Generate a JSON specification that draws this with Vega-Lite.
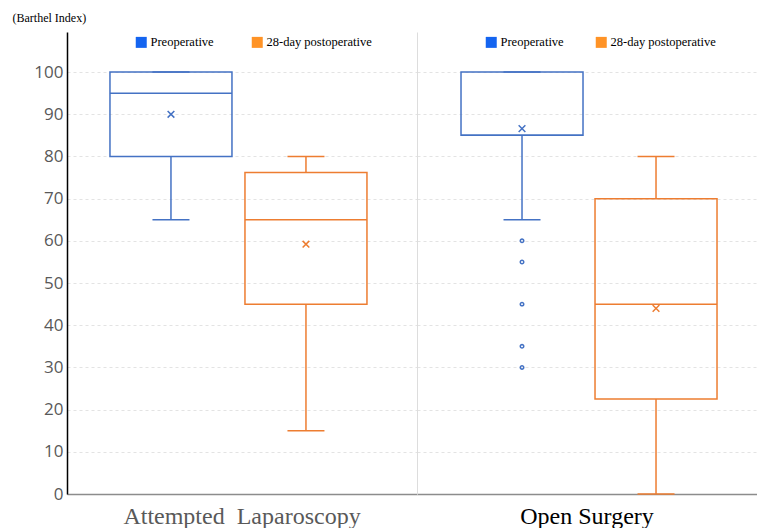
{
  "$schema": "https://vega.github.io/schema/vega-lite/v6.json",
  "background": "white",
  "padding": {"left": 12, "top": 11, "right": 0, "bottom": 0},
  "spacing": 0,
  "config": {
    "view": {"stroke": null},
    "axis": {"grid": false, "ticks": false},
    "legend": {"symbolOpacity": 1}
  },
  "datasets": {
    "stats": [
      {"group": "Attempted\u00a0 Laparoscopy", "series": "Preoperative", "min": 65, "q1": 80, "median": 95, "q3": 100, "max": 100, "mean": 90},
      {"group": "Attempted\u00a0 Laparoscopy", "series": "28-day postoperative", "min": 15, "q1": 45, "median": 65, "q3": 76.2, "max": 80, "mean": 59.2},
      {"group": "Open Surgery", "series": "Preoperative", "min": 65, "q1": 85, "median": 85, "q3": 100, "max": 100, "mean": 86.6},
      {"group": "Open Surgery", "series": "28-day postoperative", "min": 0, "q1": 22.5, "median": 45, "q3": 70, "max": 80, "mean": 44}
    ],
    "outliers": [
      {"group": "Open Surgery", "series": "Preoperative", "value": 60},
      {"group": "Open Surgery", "series": "Preoperative", "value": 55},
      {"group": "Open Surgery", "series": "Preoperative", "value": 45},
      {"group": "Open Surgery", "series": "Preoperative", "value": 35},
      {"group": "Open Surgery", "series": "Preoperative", "value": 30}
    ]
  },
  "resolve": {
    "scale": {"y": "shared", "x": "independent", "xOffset": "independent", "fill": "independent", "color": "shared"},
    "legend": {"fill": "independent"}
  },
  "hconcat": [
    {
      "width": 350,
      "height": 462,
      "encoding": {
        "x": {"field": "group", "type": "nominal", "title": null,
          "scale": {"paddingInner": 0, "paddingOuter": 0},
          "axis": {"labelAngle": 0, "labelLimit": 0, "labelFont": "Liberation Serif", "labelFontSize": 24, "labelColor": "#595959", "labelPadding": 10, "domainColor": "#8c8c8c", "domainWidth": 1.5}},
        "xOffset": {"field": "series", "type": "nominal", "sort": ["Preoperative", "28-day postoperative"],
          "scale": {"paddingInner": 0.0963, "paddingOuter": 0.3445, "align": 0.462}}
      },
      "layer": [
        {
          "data": {"name": "stats"},
          "transform": [{"filter": "datum.group === 'Attempted\u00a0 Laparoscopy'"}],
          "layer": [
            {
              "mark": {"type": "rule", "strokeWidth": 1.5},
              "encoding": {
                "y": {"field": "min", "type": "quantitative", "scale": {"domain": [0, 109.5], "nice": false},
                  "title": "(Barthel Index)",
                  "axis": {"values": [0, 10, 20, 30, 40, 50, 60, 70, 80, 90, 100], "grid": true, "gridColor": "#e3e3e3", "gridDash": [3, 3],
                    "domainColor": "#000000", "domainWidth": 1.5, "labelFont": "Open Sans", "labelFontSize": 17, "labelColor": "#595959", "labelPadding": 4,
                    "titleAngle": 0, "titleAlign": "left", "titleBaseline": "middle", "titleX": -55, "titleY": -15,
                    "titleFont": "Liberation Serif", "titleFontSize": 12, "titleFontWeight": "normal", "titleColor": "#000000"}},
                "y2": {"field": "q1"},
                "color": {"field": "series", "type": "nominal", "legend": null,
                  "scale": {"domain": ["Preoperative", "28-day postoperative"], "range": ["#4472C4", "#ED7D31"]}}
              }
            },
            {
              "mark": {"type": "rule", "strokeWidth": 1.5},
              "encoding": {
                "y": {"field": "q3", "type": "quantitative"},
                "y2": {"field": "max"},
                "color": {"field": "series", "type": "nominal", "legend": null}
              }
            },
            {
              "mark": {"type": "bar", "filled": false, "strokeWidth": 1.5, "opacity": 1},
              "encoding": {
                "y": {"field": "q1", "type": "quantitative"},
                "y2": {"field": "q3"},
                "color": {"field": "series", "type": "nominal", "legend": null}
              }
            },
            {
              "mark": {"type": "tick", "size": 122, "thickness": 1.5, "orient": "horizontal", "opacity": 1},
              "encoding": {
                "y": {"field": "median", "type": "quantitative"},
                "color": {"field": "series", "type": "nominal", "legend": null}
              }
            },
            {
              "mark": {"type": "tick", "size": 37, "thickness": 1.5, "orient": "horizontal", "opacity": 1},
              "encoding": {
                "y": {"field": "min", "type": "quantitative"},
                "color": {"field": "series", "type": "nominal", "legend": null}
              }
            },
            {
              "mark": {"type": "tick", "size": 37, "thickness": 1.5, "orient": "horizontal", "opacity": 1},
              "encoding": {
                "y": {"field": "max", "type": "quantitative"},
                "color": {"field": "series", "type": "nominal", "legend": null}
              }
            },
            {
              "mark": {"type": "point", "shape": "M-1,-1L1,1M1,-1L-1,1", "filled": false, "strokeWidth": 1.5, "size": 45, "opacity": 1},
              "encoding": {
                "y": {"field": "mean", "type": "quantitative"},
                "color": {"field": "series", "type": "nominal", "legend": null}
              }
            },
            {
              "mark": {"type": "point", "shape": "square", "filled": true, "opacity": 0},
              "encoding": {
                "y": {"field": "median", "type": "quantitative"},
                "fill": {"field": "series", "type": "nominal", "sort": ["Preoperative", "28-day postoperative"],
                  "scale": {"domain": ["Preoperative", "28-day postoperative"], "range": ["#1464F0", "#FF9326"]},
                  "legend": {"title": null, "orient": "none", "legendX": 68, "legendY": 4, "direction": "horizontal",
                    "symbolType": "square", "symbolSize": 121, "symbolStrokeWidth": 0, "symbolOpacity": 1,
                    "labelFont": "Liberation Serif", "labelFontSize": 12.5, "labelColor": "#000000", "labelOffset": 3, "columnPadding": 37}}
              }
            }
          ]
        }
      ]
    },
    {
      "width": 340,
      "height": 462,
      "encoding": {
        "x": {"field": "group", "type": "nominal", "title": null,
          "scale": {"paddingInner": 0, "paddingOuter": 0},
          "axis": {"labelAngle": 0, "labelLimit": 0, "labelFont": "Liberation Serif", "labelFontSize": 24, "labelColor": "#000000", "labelPadding": 10, "domainColor": "#8c8c8c", "domainWidth": 1.5}},
        "xOffset": {"field": "series", "type": "nominal", "sort": ["Preoperative", "28-day postoperative"],
          "scale": {"paddingInner": 0.0896, "paddingOuter": 0.3134, "align": 0.524}}
      },
      "layer": [
        {
          "data": {"name": "stats"},
          "transform": [{"filter": "datum.group === 'Open Surgery'"}],
          "layer": [
            {
              "mark": {"type": "rule", "strokeWidth": 1.5},
              "encoding": {
                "y": {"field": "min", "type": "quantitative", "title": null,
                  "axis": {"values": [0, 10, 20, 30, 40, 50, 60, 70, 80, 90, 100], "grid": true, "gridColor": "#e3e3e3", "gridDash": [3, 3],
                    "labels": false, "domainColor": "#dddddd", "domainWidth": 1}},
                "y2": {"field": "q1"},
                "color": {"field": "series", "type": "nominal", "legend": null}
              }
            },
            {
              "mark": {"type": "rule", "strokeWidth": 1.5},
              "encoding": {
                "y": {"field": "q3", "type": "quantitative"},
                "y2": {"field": "max"},
                "color": {"field": "series", "type": "nominal", "legend": null}
              }
            },
            {
              "mark": {"type": "bar", "filled": false, "strokeWidth": 1.5, "opacity": 1},
              "encoding": {
                "y": {"field": "q1", "type": "quantitative"},
                "y2": {"field": "q3"},
                "color": {"field": "series", "type": "nominal", "legend": null}
              }
            },
            {
              "mark": {"type": "tick", "size": 122, "thickness": 1.5, "orient": "horizontal", "opacity": 1},
              "encoding": {
                "y": {"field": "median", "type": "quantitative"},
                "color": {"field": "series", "type": "nominal", "legend": null}
              }
            },
            {
              "mark": {"type": "tick", "size": 37, "thickness": 1.5, "orient": "horizontal", "opacity": 1},
              "encoding": {
                "y": {"field": "min", "type": "quantitative"},
                "color": {"field": "series", "type": "nominal", "legend": null}
              }
            },
            {
              "mark": {"type": "tick", "size": 37, "thickness": 1.5, "orient": "horizontal", "opacity": 1},
              "encoding": {
                "y": {"field": "max", "type": "quantitative"},
                "color": {"field": "series", "type": "nominal", "legend": null}
              }
            },
            {
              "mark": {"type": "point", "shape": "M-1,-1L1,1M1,-1L-1,1", "filled": false, "strokeWidth": 1.5, "size": 45, "opacity": 1},
              "encoding": {
                "y": {"field": "mean", "type": "quantitative"},
                "color": {"field": "series", "type": "nominal", "legend": null}
              }
            },
            {
              "mark": {"type": "point", "shape": "square", "filled": true, "opacity": 0},
              "encoding": {
                "y": {"field": "median", "type": "quantitative"},
                "fill": {"field": "series", "type": "nominal", "sort": ["Preoperative", "28-day postoperative"],
                  "scale": {"domain": ["Preoperative", "28-day postoperative"], "range": ["#1464F0", "#FF9326"]},
                  "legend": {"title": null, "orient": "none", "legendX": 68, "legendY": 4, "direction": "horizontal",
                    "symbolType": "square", "symbolSize": 121, "symbolStrokeWidth": 0, "symbolOpacity": 1,
                    "labelFont": "Liberation Serif", "labelFontSize": 12.5, "labelColor": "#000000", "labelOffset": 3, "columnPadding": 31}}
              }
            }
          ]
        },
        {
          "data": {"name": "outliers"},
          "mark": {"type": "point", "shape": "circle", "filled": false, "strokeWidth": 1.5, "size": 12, "opacity": 1},
          "encoding": {
            "y": {"field": "value", "type": "quantitative"},
            "color": {"field": "series", "type": "nominal", "legend": null}
          }
        }
      ]
    }
  ]
}
